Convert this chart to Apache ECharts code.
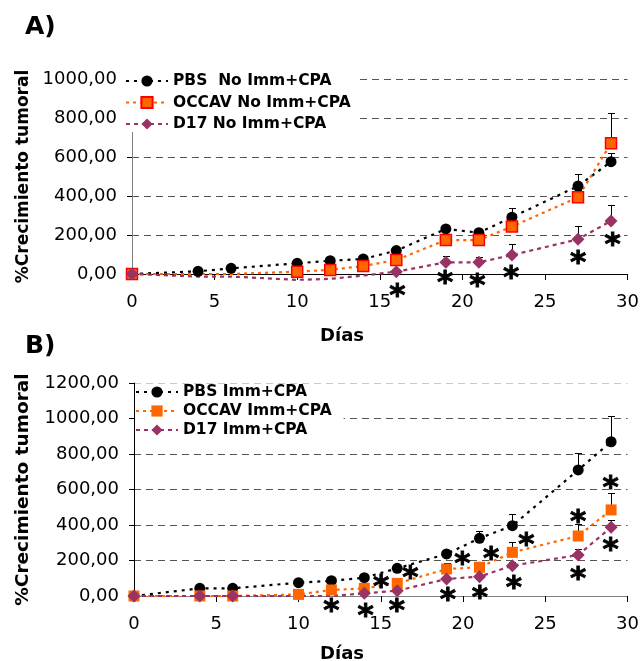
<!DOCTYPE html>
<html>
<head>
<meta charset="utf-8">
<script src="https://cdn.jsdelivr.net/npm/echarts@6/dist/echarts.min.js"></script>
<style>
  html, body { margin: 0; padding: 0; background: #fff; }
  #chart { width: 642px; height: 661px; }
</style>
</head>
<body>
<div id="chart"></div>
<script>
  // dias de medida (comunes a ambos paneles)
  var dias = [0, 4, 6, 10, 12, 14, 16, 19, 21, 23, 27, 29];

  // Panel A: No Imm + CPA
  var pbsA = [0, 14, 29, 55, 68, 77, 120, 231, 212, 291, 451, 576];
  var pbsAErr = [0, 3, 3, 5, 5, 6, 8, 12, 10, 46, 60, 45];
  var occA = [0, 0, 0, 12, 21, 41, 72, 174, 174, 243, 393, 670];
  var occAErr = [0, 0, 0, 3, 4, 5, 8, 10, 10, 20, 40, 154];
  var d17A = [0, -13, -13, -30, -25, -8, 12, 60, 60, 97, 178, 272];
  var d17AErr = [0, 0, 0, 0, 0, 0, 5, 32, 29, 55, 70, 82];
  var occAHidden = [4, 6];
  var d17AHidden = [4, 6, 10, 12, 14];
  var astAx = [16.06, 18.95, 20.9, 22.95, 27.0, 29.1];
  var astAy = [-85, -22, -34, 7, 80, 174];

  // Panel B: Imm + CPA
  var pbsB = [0, 43, 43, 75, 86, 103, 156, 237, 325, 396, 710, 869];
  var pbsBErr = [0, 4, 4, 6, 6, 8, 12, 15, 41, 64, 97, 145];
  var occB = [0, 0, 0, 9, 34, 43, 71, 152, 162, 246, 338, 485];
  var occBErr = [0, 0, 0, 3, 5, 6, 8, 34, 15, 60, 67, 97];
  var d17B = [0, 0, 0, 0, 0, 15, 30, 96, 109, 171, 231, 387];
  var d17BErr = [0, 0, 0, 0, 0, 4, 6, 10, 12, 18, 32, 40];
  var d17BHidden = [10, 12];
  var astBx = [12.0, 14.08, 15.02, 15.98, 16.8, 19.07, 19.96, 21.03, 21.7, 23.09, 23.85, 27.0, 27.0, 28.97, 28.97];
  var astBy = [-55, -83, 77, -55, 128, 6, 207, 19, 237, 75, 315, 124, 447, 285, 638];

  var namesA = ['PBS  No Imm+CPA', 'OCCAV No Imm+CPA', 'D17 No Imm+CPA'];
  var namesB = ['PBS Imm+CPA', 'OCCAV Imm+CPA', 'D17 Imm+CPA'];

  var FONT = 'DejaVu Sans, Verdana, sans-serif';

  function pts(vals, hidden) {
    return dias.map(function (d, i) {
      var item = { value: [d, vals[i]] };
      if (hidden && hidden.indexOf(d) >= 0) item.symbol = 'none';
      return item;
    });
  }
  function errPts(vals, errs) {
    return dias.map(function (d, i) { return [d, vals[i], errs[i]]; });
  }
  function astPts(xs, ys) {
    return xs.map(function (x, i) { return [x, ys[i]]; });
  }

  function lineSeries(name, idx, vals, hidden, color, dash, symbol, size, border) {
    return {
      name: name,
      type: 'line',
      xAxisIndex: idx,
      yAxisIndex: idx,
      data: pts(vals, hidden),
      clip: false,
      symbol: symbol,
      symbolSize: size,
      showAllSymbol: true,
      lineStyle: { color: color, width: 2.2, type: dash },
      itemStyle: { color: color, borderColor: border || color, borderWidth: border ? 1.5 : 0 },
      emphasis: { disabled: true },
      z: 3
    };
  }

  function errSeries(idx, vals, errs) {
    return {
      type: 'custom',
      xAxisIndex: idx,
      yAxisIndex: idx,
      data: errPts(vals, errs),
      z: 2,
      silent: true,
      renderItem: function (params, api) {
        var e = api.value(2);
        if (!e) return;
        var p0 = api.coord([api.value(0), api.value(1)]);
        var p1 = api.coord([api.value(0), api.value(1) + e]);
        var x = Math.round(p0[0]) + 0.5;
        var yt = Math.round(p1[1]) + 0.5;
        return {
          type: 'group',
          children: [
            { type: 'line', shape: { x1: x, y1: p0[1], x2: x, y2: yt }, style: { stroke: '#000', lineWidth: 1 } },
            { type: 'line', shape: { x1: x - 3.5, y1: yt, x2: x + 3.5, y2: yt }, style: { stroke: '#000', lineWidth: 1 } }
          ]
        };
      }
    };
  }

  function astSeries(idx, xs, ys) {
    return {
      type: 'custom',
      xAxisIndex: idx,
      yAxisIndex: idx,
      data: astPts(xs, ys),
      z: 5,
      silent: true,
      clip: false,
      renderItem: function (params, api) {
        var p = api.coord([api.value(0), api.value(1)]);
        return {
          type: 'text',
          x: p[0],
          y: p[1] + 6,
          style: {
            text: '*', fontSize: 31, fontWeight: 'bold', fontFamily: FONT,
            fill: '#000', stroke: '#000', lineWidth: 0.9,
            align: 'center', verticalAlign: 'middle'
          }
        };
      }
    };
  }

  function commaFmt(v) { return v.toFixed(2).replace('.', ','); }

  function xAxisCfg(idx, lineColor) {
    return {
      type: 'value', gridIndex: idx, min: 0, max: 30, interval: 5,
      axisLine: { onZero: false, lineStyle: { color: lineColor, width: 1 } },
      axisTick: { show: true, length: 6, lineStyle: { color: '#000' } },
      axisLabel: { fontSize: 18, fontFamily: FONT, color: '#000', margin: 19 },
      splitLine: { show: false }
    };
  }
  function yAxisCfg(idx, max, lineColor, gridColors, gap) {
    return {
      type: 'value', gridIndex: idx, min: 0, max: max, interval: 200,
      name: '%Crecimiento tumoral',
      nameLocation: 'middle',
      nameGap: gap,
      nameTextStyle: { fontSize: idx === 0 ? 17 : 18.5, fontWeight: 'bold', fontFamily: FONT, color: '#000' },
      axisLine: { show: true, onZero: false, lineStyle: { color: lineColor, width: 1 } },
      axisTick: { show: true, length: 5, lineStyle: { color: '#000' } },
      axisLabel: { fontSize: 18, fontFamily: FONT, color: '#000', margin: 15, formatter: commaFmt },
      splitLine: { show: true, lineStyle: { color: gridColors, type: [7, 5], width: 1 } }
    };
  }

  var legendText = { fontFamily: FONT, fontWeight: 'bold', fontSize: 15.5, color: '#000', lineHeight: 16 };

  var option = {
    animation: false,
    backgroundColor: '#fff',
    graphic: [
      { type: 'text', left: 25, top: 15, style: { text: 'A)', fontSize: 25, fontWeight: 'bold', fontFamily: FONT, fill: '#000' } },
      { type: 'text', left: 25, top: 334, style: { text: 'B)', fontSize: 25, fontWeight: 'bold', fontFamily: FONT, fill: '#000' } },
      { type: 'text', x: 342, y: 336, style: { text: 'Días', fontSize: 18, fontWeight: 'bold', fontFamily: FONT, fill: '#000', align: 'center', verticalAlign: 'middle' } },
      { type: 'text', x: 342, y: 654, style: { text: 'Días', fontSize: 18, fontWeight: 'bold', fontFamily: FONT, fill: '#000', align: 'center', verticalAlign: 'middle' } }
    ],
    grid: [
      { left: 132, top: 79, width: 496, height: 195 },
      { left: 134, top: 383, width: 495, height: 213 }
    ],
    xAxis: [xAxisCfg(0, '#000'), xAxisCfg(1, '#808080')],
    yAxis: [
      yAxisCfg(0, 1000, '#808080', '#555', 100),
      yAxisCfg(1, 1200, '#000', ['#555', '#555', '#555', '#555', '#555', '#555', '#c8c8c8'], 101)
    ],
    legend: [
      {
        data: namesA, orient: 'vertical', left: 125, top: 73,
        itemWidth: 42, itemHeight: 14, itemGap: 5.5,
        backgroundColor: '#fff', padding: [0, 8, 0, 0],
        textStyle: legendText, selectedMode: false
      },
      {
        data: namesB, orient: 'vertical', left: 135, top: 384,
        itemWidth: 42, itemHeight: 14, itemGap: 3,
        backgroundColor: '#fff', padding: [0, 12, 0, 0],
        textStyle: legendText, selectedMode: false
      }
    ],
    series: [
      errSeries(0, pbsA, pbsAErr),
      errSeries(0, occA, occAErr),
      errSeries(0, d17A, d17AErr),
      lineSeries(namesA[0], 0, pbsA, null, '#000', [3, 5], 'circle', 11),
      lineSeries(namesA[1], 0, occA, occAHidden, '#FF6600', [3, 4], 'rect', 11, '#FF0000'),
      lineSeries(namesA[2], 0, d17A, d17AHidden, '#993366', [4, 4], 'diamond', 13),
      astSeries(0, astAx, astAy),

      errSeries(1, pbsB, pbsBErr),
      errSeries(1, occB, occBErr),
      errSeries(1, d17B, d17BErr),
      lineSeries(namesB[0], 1, pbsB, null, '#000', [3, 5], 'circle', 11),
      lineSeries(namesB[1], 1, occB, null, '#FF6600', [3, 4], 'rect', 11),
      lineSeries(namesB[2], 1, d17B, d17BHidden, '#993366', [4, 4], 'diamond', 13),
      astSeries(1, astBx, astBy)
    ]
  };

  var chart = echarts.init(document.getElementById('chart'), null, { renderer: 'canvas' });
  chart.setOption(option);
</script>
</body>
</html>
